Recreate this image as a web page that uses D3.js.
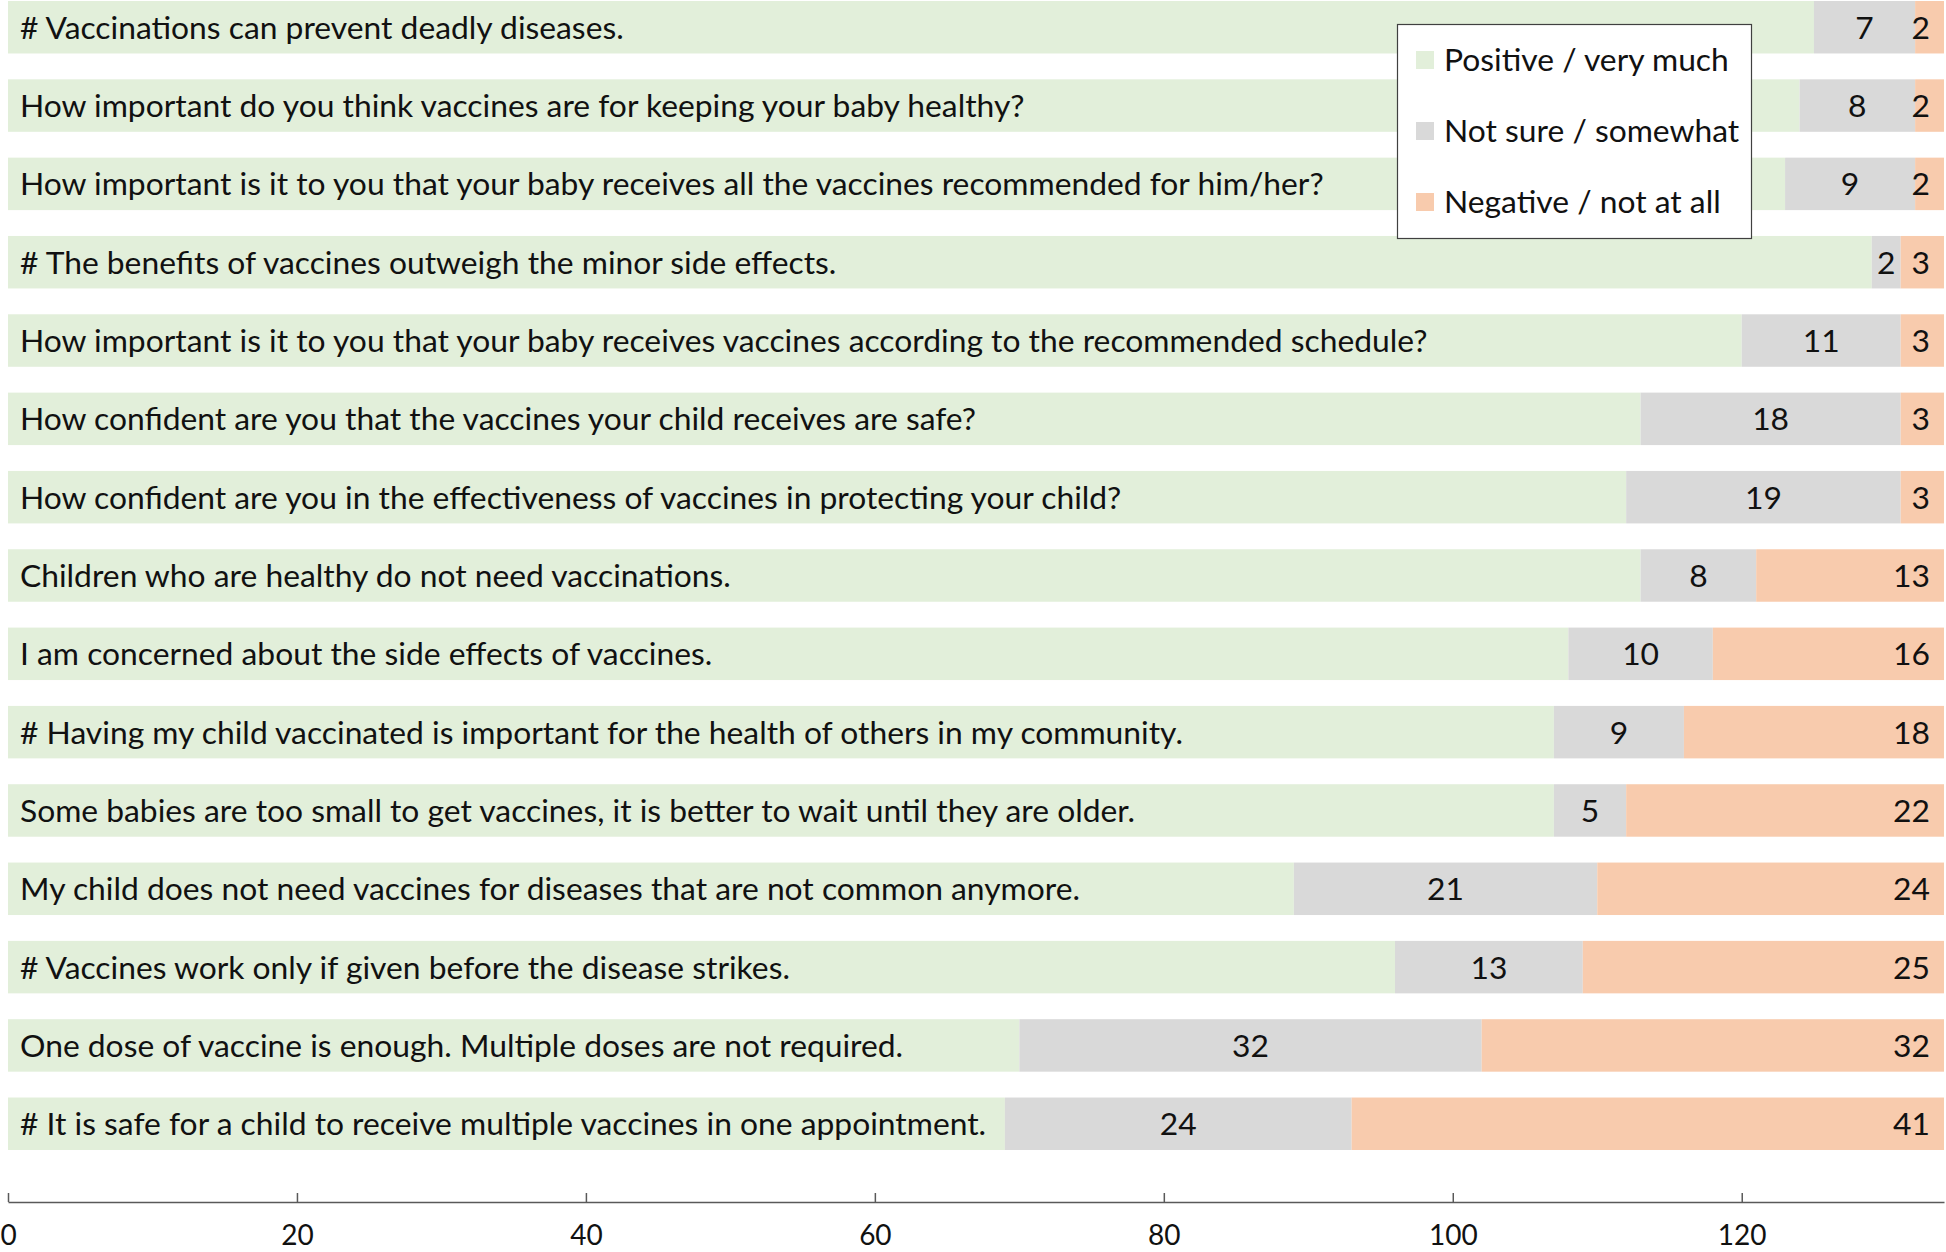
<!DOCTYPE html>
<html>
<head>
<meta charset="utf-8">
<script src="https://cdn.jsdelivr.net/npm/d3@7"></script>
<style>
  html, body { margin: 0; padding: 0; background: #ffffff; }
  svg { display: block; }
  text { font-family: Lato, "Open Sans", sans-serif; fill: #111; }
</style>
</head>
<body>
<svg id="chart" width="1946" height="1252"></svg>
<script>
const categories = [
  "# Vaccinations can prevent deadly diseases.",
  "How important do you think vaccines are for keeping your baby healthy?",
  "How important is it to you that your baby receives all the vaccines recommended for him/her?",
  "# The benefits of vaccines outweigh the minor side effects.",
  "How important is it to you that your baby receives vaccines according to the recommended schedule?",
  "How confident are you that the vaccines your child receives are safe?",
  "How confident are you in the effectiveness of vaccines in protecting your child?",
  "Children who are healthy do not need vaccinations.",
  "I am concerned about the side effects of vaccines.",
  "# Having my child vaccinated is important for the health of others in my community.",
  "Some babies are too small to get vaccines, it is better to wait until they are older.",
  "My child does not need vaccines for diseases that are not common anymore.",
  "# Vaccines work only if given before the disease strikes.",
  "One dose of vaccine is enough. Multiple doses are not required.",
  "# It is safe for a child to receive multiple vaccines in one appointment."
];
const positive = [125, 124, 123, 129, 120, 113, 112, 113, 108, 107, 107, 89, 96, 70, 69];
const notSure  = [7, 8, 9, 2, 11, 18, 19, 8, 10, 9, 5, 21, 13, 32, 24];
const negative = [2, 2, 2, 3, 3, 3, 3, 13, 16, 18, 22, 24, 25, 32, 41];
const seriesNames = ["Positive / very much", "Not sure / somewhat", "Negative / not at all"];
const seriesColors = ["#E2EFDA", "#D9D9D9", "#F8CBAD"];
const tickValues = [0, 20, 40, 60, 80, 100, 120];

const FONT = 31.8;
const svg = d3.select("#chart");

const rows = categories.map((c, i) => ({cat: c, s0: positive[i], s1: notSure[i], s2: negative[i]}));
const stack = d3.stack().keys(["s0", "s1", "s2"])(rows);

const x = d3.scaleLinear().domain([0, 134]).range([8, 1944]);
const y = d3.scaleBand().domain(categories).range([1, 1150]).paddingInner(0.33).paddingOuter(0);

const layers = svg.append("g").selectAll("g").data(stack).join("g")
  .attr("fill", (d, i) => seriesColors[i]);

layers.selectAll("rect").data(d => d.map(p => ({p, cat: p.data.cat}))).join("rect")
  .attr("x", d => x(d.p[0]))
  .attr("width", d => x(d.p[1]) - x(d.p[0]))
  .attr("y", d => y(d.cat))
  .attr("height", y.bandwidth());

// category labels inside bars
svg.append("g").selectAll("text").data(categories).join("text")
  .attr("x", x(0) + 12)
  .attr("y", d => y(d) + y.bandwidth() / 2)
  .attr("dy", "0.36em")
  .style("font-size", FONT + "px")
  .text(d => d);

// not sure labels (centered)
svg.append("g").selectAll("text").data(stack[1]).join("text")
  .attr("x", d => (x(d[0]) + x(d[1])) / 2)
  .attr("y", d => y(d.data.cat) + y.bandwidth() / 2)
  .attr("dy", "0.36em")
  .attr("text-anchor", "middle")
  .style("font-size", FONT + "px")
  .text(d => d[1] - d[0]);

// negative labels (inside end)
svg.append("g").selectAll("text").data(stack[2]).join("text")
  .attr("x", d => x(d[1]) - 14)
  .attr("y", d => y(d.data.cat) + y.bandwidth() / 2)
  .attr("dy", "0.36em")
  .attr("text-anchor", "end")
  .style("font-size", FONT + "px")
  .text(d => d[1] - d[0]);

// axis
const axis = d3.axisBottom(x).tickValues(tickValues).tickSizeInner(-9).tickSizeOuter(0).tickPadding(23);
const ax = svg.append("g").attr("transform", "translate(0,1202)").call(axis);
ax.select(".domain").attr("stroke", "#595959").attr("stroke-width", 1.5);
ax.selectAll(".tick line").attr("stroke", "#595959").attr("stroke-width", 1.5);
ax.selectAll(".tick text").style("font-size", "28px").style("font-family", "Lato, sans-serif").attr("fill", "#111");

// legend
const lg = svg.append("g");
lg.append("rect").attr("x", 1397.5).attr("y", 24.5).attr("width", 354).attr("height", 214)
  .attr("fill", "#ffffff").attr("stroke", "#404040").attr("stroke-width", 1.2);
const legY = [60, 131, 202];
seriesNames.forEach((n, i) => {
  lg.append("rect").attr("x", 1416).attr("y", legY[i] - 9).attr("width", 18).attr("height", 18)
    .attr("fill", seriesColors[i]);
  lg.append("text").attr("x", 1444).attr("y", legY[i]).attr("dy", "0.36em")
    .style("font-size", FONT + "px").text(n);
});
</script>
</body>
</html>
